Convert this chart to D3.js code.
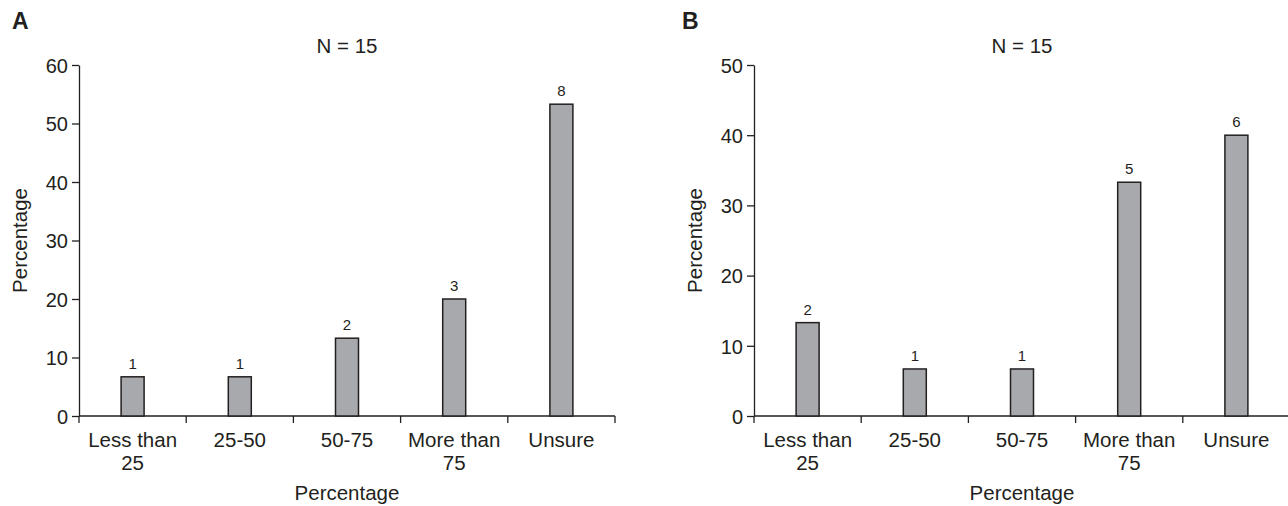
<!DOCTYPE html>
<html>
<head>
<meta charset="utf-8">
<script src="https://cdn.jsdelivr.net/npm/d3@7"></script>
<style>
  body { margin: 0; background: #fff; }
  text { font-family: "Liberation Sans", Arial, sans-serif; fill: #231f20; }
  .axis path, .axis line { stroke: #231f20; stroke-width: 1.3; }
</style>
</head>
<body>
<div id="chart"></div>
<script>
// categories shared by both panels
const categories = ["Less than 25", "25-50", "50-75", "More than 75", "Unsure"];
const tickLines = [["Less than", "25"], ["25-50"], ["50-75"], ["More than", "75"], ["Unsure"]];

// panel A
const valuesA = [6.7, 6.7, 13.3, 20, 53.3];
const countsA = [1, 1, 2, 3, 8];
const yTicksA = [0, 10, 20, 30, 40, 50, 60];

// panel B
const valuesB = [13.3, 6.7, 6.7, 33.3, 40];
const countsB = [2, 1, 1, 5, 6];
const yTicksB = [0, 10, 20, 30, 40, 50];

const svg = d3.select("#chart").append("svg")
    .attr("width", 1288)
    .attr("height", 506);

function drawPanel(opts) {
    let g = svg.append("g").attr("transform", `translate(${opts.left}, 0)`);
    let top = 65, bottom = 416;
    let width = 536;

    let x = d3.scaleBand()
        .domain(categories)
        .range([0, width]);

    let y = d3.scaleLinear()
        .domain([0, d3.max(opts.yTicks)])
        .range([bottom, top]);

    // y axis
    g.append("g")
        .attr("class", "axis y-axis")
        .call(d3.axisLeft(y).tickValues(opts.yTicks).tickSize(7).tickSizeOuter(0).tickPadding(4))
        .call(a => a.selectAll("text").style("font-size", "20px").attr("dy", "0.36em"));

    // x axis: baseline plus ticks at band edges
    let xa = g.append("g").attr("class", "axis x-axis");
    xa.append("line")
        .attr("x1", 0).attr("x2", width)
        .attr("y1", bottom).attr("y2", bottom);
    let edges = categories.map(c => x(c)).concat([width]);
    xa.selectAll(".edge")
        .data(edges)
        .join("line")
        .attr("class", "edge")
        .attr("x1", d => d).attr("x2", d => d)
        .attr("y1", bottom).attr("y2", bottom + 7);

    xa.selectAll(".cat")
        .data(categories)
        .join("text")
        .attr("class", "cat")
        .attr("text-anchor", "middle")
        .style("font-size", "20.5px")
        .attr("x", d => x(d) + x.bandwidth() / 2)
        .attr("y", bottom + 31)
        .each(function (d, i) {
            d3.select(this).selectAll("tspan")
                .data(tickLines[i])
                .join("tspan")
                .attr("x", x(d) + x.bandwidth() / 2)
                .attr("dy", (t, j) => j === 0 ? 0 : 23)
                .text(t => t);
        });

    // bars
    let barW = 23;
    g.selectAll(".bar")
        .data(opts.values)
        .join("rect")
        .attr("class", "bar")
        .attr("x", (d, i) => x(categories[i]) + x.bandwidth() / 2 - barW / 2)
        .attr("y", d => y(d))
        .attr("width", barW)
        .attr("height", d => bottom - y(d))
        .attr("fill", "#a7a9ac")
        .attr("stroke", "#231f20")
        .attr("stroke-width", 1.5);

    // count labels
    g.selectAll(".count")
        .data(opts.values)
        .join("text")
        .attr("class", "count")
        .attr("text-anchor", "middle")
        .style("font-size", "15px")
        .attr("x", (d, i) => x(categories[i]) + x.bandwidth() / 2)
        .attr("y", d => y(d) - 8)
        .text((d, i) => opts.counts[i]);

    // title
    g.append("text")
        .attr("text-anchor", "middle")
        .style("font-size", "20.5px")
        .attr("x", width / 2)
        .attr("y", 53)
        .text("N = 15");

    // axis labels
    g.append("text")
        .attr("text-anchor", "middle")
        .style("font-size", "20.5px")
        .attr("x", width / 2)
        .attr("y", 500)
        .text("Percentage");

    g.append("text")
        .attr("text-anchor", "middle")
        .style("font-size", "20.5px")
        .attr("transform", `translate(${-52}, ${(top + bottom) / 2}) rotate(-90)`)
        .text("Percentage");

    // panel letter
    svg.append("text")
        .style("font-size", "23px")
        .style("font-weight", "bold")
        .attr("x", opts.letterX)
        .attr("y", 29)
        .text(opts.letter);
}

drawPanel({ left: 79, values: valuesA, counts: countsA, yTicks: yTicksA, letter: "A", letterX: 12 });
drawPanel({ left: 754, values: valuesB, counts: countsB, yTicks: yTicksB, letter: "B", letterX: 682 });
</script>
</body>
</html>
